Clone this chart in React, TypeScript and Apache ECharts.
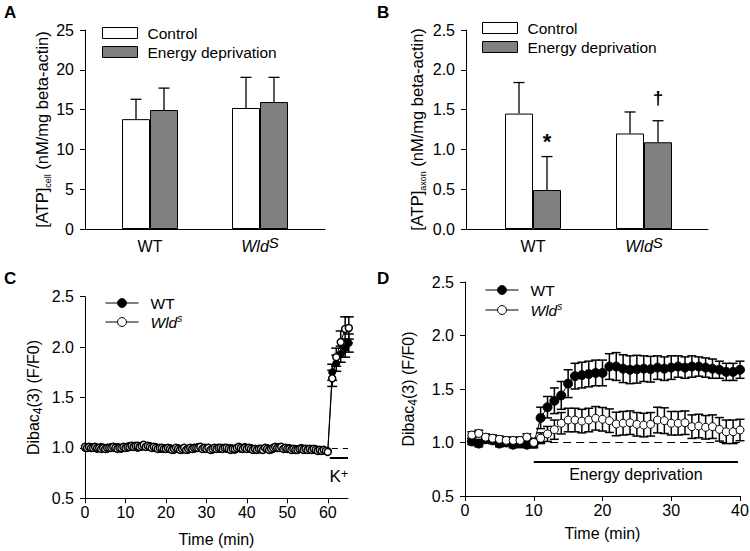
import React, { useEffect, useRef } from 'react';
import * as echarts from 'echarts';

// ---------- data ----------
const groups = ['WT', 'WldS'];
// Panel A: [ATP]cell
const aControl = [13.8, 15.2];
const aControlErr = [2.5, 3.85];
const aEnergy = [14.95, 15.95];
const aEnergyErr = [2.75, 3.1];
// Panel B: [ATP]axon
const bControl = [1.45, 1.2];
const bControlErr = [0.39, 0.27];
const bEnergy = [0.49, 1.09];
const bEnergyErr = [0.42, 0.27];
const bSignif = ['*', '\u2020'];

// Panel C: baseline sampled every 0.5 min from 0 to 60, then K+ stimulation
const cBaseTime = Array.from({ length: 121 }, (_, i) => i * 0.5);
const cWTBase = [
  1.00, 1.01, 1.00, 1.00, 1.01, 1.00, 0.99, 1.00, 1.01, 1.00,
  1.00, 0.99, 1.00, 1.01, 1.00, 1.00, 1.01, 1.00, 0.99, 1.00,
  1.01, 1.00, 1.02, 1.01, 1.02, 1.01, 1.00, 1.02, 1.01, 1.02,
  1.02, 1.01, 1.02, 1.01, 1.00, 1.01, 1.00, 0.99, 0.99, 1.00,
  1.00, 0.99, 1.00, 0.99, 0.98, 0.99, 1.00, 0.99, 0.98, 0.99,
  0.99, 0.98, 0.99, 1.00, 0.99, 1.00, 1.01, 1.00, 1.00, 0.99,
  1.00, 1.00, 0.99, 0.98, 0.99, 1.00, 0.99, 0.99, 1.00, 1.00,
  0.99, 0.99, 1.00, 0.99, 0.98, 0.99, 1.00, 0.99, 1.00, 1.01,
  1.00, 0.99, 1.00, 0.99, 0.98, 0.99, 0.99, 0.98, 0.99, 0.99,
  1.00, 0.99, 0.98, 0.99, 1.00, 1.00, 1.01, 1.00, 1.00, 0.99,
  1.00, 1.00, 0.99, 0.98, 0.99, 0.98, 0.99, 1.00, 0.99, 0.98,
  0.99, 0.98, 0.99, 0.98, 0.99, 0.98, 0.97, 0.98, 0.98, 0.97,
  0.97,
];
const cWldBase = [
  1.01, 1.00, 1.01, 1.00, 1.00, 1.01, 1.00, 1.00, 0.99, 1.00,
  0.99, 1.00, 1.00, 1.00, 1.01, 1.00, 0.99, 1.00, 1.00, 1.01,
  1.00, 1.01, 1.01, 1.02, 1.01, 1.02, 1.02, 1.01, 1.02, 1.03,
  1.01, 1.02, 1.01, 1.00, 1.01, 1.00, 0.99, 1.00, 1.00, 0.99,
  0.99, 1.00, 0.99, 0.98, 0.99, 1.00, 0.99, 0.98, 0.99, 1.00,
  0.98, 0.99, 1.00, 0.99, 1.00, 1.00, 1.00, 1.01, 0.99, 1.00,
  0.99, 1.00, 0.98, 0.99, 1.00, 0.99, 1.00, 1.00, 0.99, 1.00,
  1.00, 0.99, 0.98, 0.99, 0.99, 1.00, 1.01, 1.00, 0.99, 1.00,
  0.99, 1.00, 0.99, 0.98, 0.99, 0.98, 0.99, 0.99, 0.98, 1.00,
  0.99, 0.98, 0.99, 1.00, 1.01, 1.00, 1.00, 1.01, 0.99, 1.00,
  0.99, 0.99, 0.98, 0.99, 0.98, 0.98, 0.99, 0.99, 0.98, 0.99,
  0.98, 0.99, 0.98, 0.99, 0.98, 0.97, 0.98, 0.97, 0.98, 0.97,
  0.96,
];
const cKTime = [61.1, 62.1, 63.2, 64.3, 65.2];
const cWTK = [1.75, 1.84, 1.93, 1.99, 2.04];
const cWTKErr = [0.08, 0.08, 0.08, 0.09, 0.09];
const cWldK = [1.69, 1.9, 2.05, 2.18, 2.19];
const cWldKErr = [0.08, 0.09, 0.11, 0.12, 0.11];

// Panel D: every minute, 1..40
const dTime = Array.from({ length: 40 }, (_, i) => i + 1);
const dWT = [
  1.01, 0.99, 1.03, 1.02, 0.99, 1.0, 0.98, 0.99, 0.98, 0.99,
  1.23, 1.33, 1.39, 1.44, 1.55, 1.62, 1.63, 1.64, 1.65, 1.65,
  1.71, 1.71, 1.69, 1.68, 1.685, 1.69, 1.685, 1.7, 1.69, 1.7,
  1.71, 1.7, 1.71, 1.71, 1.7, 1.69, 1.68, 1.66, 1.66, 1.68,
];
const dWTErr = [
  0.03, 0.03, 0.03, 0.03, 0.03, 0.03, 0.03, 0.03, 0.03, 0.04,
  0.1, 0.1, 0.12, 0.13, 0.13, 0.12, 0.12, 0.12, 0.12, 0.12,
  0.12, 0.13, 0.13, 0.13, 0.13, 0.12, 0.12, 0.11, 0.11, 0.11,
  0.1, 0.1, 0.1, 0.09, 0.09, 0.09, 0.08, 0.08, 0.08, 0.08,
];
const dWld = [
  1.07, 1.085, 1.05, 1.04, 1.03, 1.02, 1.02, 1.02, 1.05, 1.0,
  1.04, 1.08, 1.12, 1.18, 1.21, 1.21, 1.2, 1.21, 1.226, 1.217,
  1.204, 1.173, 1.18, 1.185, 1.17, 1.163, 1.17, 1.21, 1.204, 1.18,
  1.18, 1.185, 1.148, 1.154, 1.142, 1.148, 1.123, 1.1, 1.1, 1.117,
];
const dWldErr = [
  0.03, 0.03, 0.03, 0.03, 0.03, 0.03, 0.03, 0.03, 0.03, 0.04,
  0.05, 0.07, 0.09, 0.1, 0.11, 0.11, 0.11, 0.11, 0.11, 0.11,
  0.11, 0.11, 0.11, 0.11, 0.11, 0.11, 0.11, 0.12, 0.12, 0.11,
  0.11, 0.11, 0.11, 0.11, 0.11, 0.11, 0.11, 0.11, 0.11, 0.1,
];

// annotation ranges (data units)
const kLevel = 0.9;
const kRange = [60.5, 65];
const cDashRange = [61, 65];
const edLevel = 0.82;
const edRange = [10, 39.7];
const dDashRange = [10.5, 40];

// ---------- styles ----------
const FONT = 'Arial, "Liberation Sans", Helvetica, sans-serif';
const BAR_W = 28;
const BLACK = '#000';
const GRAY = '#808080';

const tickFmt1 = (v: number) => v.toFixed(1);

function valueY(gridIndex: number, min: number, max: number, interval: number, name: string, nameGap: number, fmt: any, fs: number, rich: any) {
  return {
    type: 'value', gridIndex, min, max, interval,
    axisLine: { show: true, onZero: false, lineStyle: { color: BLACK, width: 1 } },
    axisTick: { show: true, length: 5, lineStyle: { color: BLACK, width: 1 } },
    axisLabel: { color: BLACK, fontSize: fs, fontFamily: FONT, margin: 11, formatter: fmt },
    splitLine: { show: false },
    name, nameLocation: 'middle', nameGap, nameRotate: 90, nameMoveOverlap: false,
    nameTextStyle: { color: BLACK, fontFamily: FONT, fontSize: 16, rich },
  };
}

function hiddenY(gridIndex: number, min: number, max: number) {
  return { type: 'value', gridIndex, min, max, show: false, splitLine: { show: false } };
}

function lineX(gridIndex: number) {
  return {
    type: 'value', gridIndex, min: 0, max: 1,
    axisLine: { show: true, onZero: false, lineStyle: { color: BLACK, width: 1 } },
    axisTick: { show: false }, axisLabel: { show: false }, splitLine: { show: false },
  };
}

const catRich = {
  n: { fontSize: 16, lineHeight: 22, color: BLACK, fontFamily: FONT },
  i: { fontSize: 16, lineHeight: 22, fontStyle: 'italic', color: BLACK, fontFamily: FONT },
  sup: { fontSize: 15, lineHeight: 15, fontStyle: 'italic', verticalAlign: 'top', color: BLACK, fontFamily: FONT },
};

function catX(gridIndex: number) {
  return {
    type: 'category', gridIndex, data: groups,
    axisLine: { show: false }, axisTick: { show: false }, splitLine: { show: false },
    axisLabel: {
      interval: 0, hideOverlap: false,
      margin: 6, color: BLACK, fontFamily: FONT, fontSize: 16, rich: catRich,
      formatter: (v: string) => (v === 'WldS' ? '{i|Wld}{sup|S}' : '{n|' + v + '}'),
    },
  };
}

function timeX(gridIndex: number, max: number, nameGap: number, custom?: number[]) {
  const ax: any = {
    type: 'value', gridIndex, min: 0, max, interval: 10,
    axisLine: { show: true, onZero: false, lineStyle: { color: BLACK, width: 1 } },
    axisTick: { show: true, length: 5, lineStyle: { color: BLACK } },
    axisLabel: { color: BLACK, fontFamily: FONT, fontSize: 16, margin: 6 },
    splitLine: { show: false },
    name: 'Time (min)', nameLocation: 'middle', nameGap, nameMoveOverlap: false,
    nameTextStyle: { color: BLACK, fontFamily: FONT, fontSize: 16 },
  };
  if (custom) {
    ax.axisTick.customValues = custom;
    ax.axisLabel.customValues = custom;
  }
  return ax;
}

const subRich = {
  m: { fontSize: 16.5, lineHeight: 20, color: BLACK, fontFamily: FONT },
  s: { fontSize: 9, lineHeight: 9, verticalAlign: 'bottom', color: BLACK, fontFamily: FONT },
};
const dibacRich = {
  m: { fontSize: 16, lineHeight: 22, color: BLACK, fontFamily: FONT },
  s: { fontSize: 12, lineHeight: 12, verticalAlign: 'bottom', color: BLACK, fontFamily: FONT },
};

function barErrSeries(name: string, xi: number, vals: number[], errs: number[], offset: number, sig?: string[]) {
  return {
    type: 'custom', name, xAxisIndex: xi, yAxisIndex: xi, silent: true, z: 5,
    data: groups.map((g, i) => [i, vals[i], vals[i] + errs[i]]),
    encode: { x: 0, y: [1, 2] },
    renderItem: (params: any, api: any) => {
      const idx = params.dataIndex;
      const c0 = api.coord([api.value(0), api.value(1)]);
      const c1 = api.coord([api.value(0), api.value(2)]);
      const x = c0[0] + offset;
      const st = { stroke: BLACK, lineWidth: 1.3 };
      const children: any[] = [
        { type: 'line', shape: { x1: x, y1: c0[1], x2: x, y2: c1[1] }, style: st },
        { type: 'line', shape: { x1: x - 5.5, y1: c1[1], x2: x + 5.5, y2: c1[1] }, style: st },
      ];
      if (sig && sig[idx]) {
        children.push({
          type: 'text', x, y: c1[1] - (sig[idx] === '*' ? 15 : 23),
          style: { text: sig[idx], fill: BLACK, fontFamily: FONT, fontWeight: 'bold', fontSize: sig[idx] === '*' ? 22 : 19, align: 'center', verticalAlign: 'middle' },
        });
      }
      return { type: 'group', children };
    },
  };
}

function errSeries(name: string, gi: number, xs: number[], vals: number[], errs: number[], hw: number, lw: number) {
  return {
    type: 'custom', name, xAxisIndex: gi, yAxisIndex: gi, silent: true, z: 1, clip: false,
    data: xs.map((x, i) => [x, vals[i] - errs[i], vals[i] + errs[i]]),
    encode: { x: 0, y: [1, 2] },
    renderItem: (params: any, api: any) => {
      const lo = api.coord([api.value(0), api.value(1)]);
      const hi = api.coord([api.value(0), api.value(2)]);
      const st = { stroke: BLACK, lineWidth: lw };
      return {
        type: 'group',
        children: [
          { type: 'line', shape: { x1: lo[0], y1: lo[1], x2: hi[0], y2: hi[1] }, style: st },
          { type: 'line', shape: { x1: lo[0] - hw, y1: lo[1], x2: lo[0] + hw, y2: lo[1] }, style: st },
          { type: 'line', shape: { x1: hi[0] - hw, y1: hi[1], x2: hi[0] + hw, y2: hi[1] }, style: st },
        ],
      };
    },
  };
}

function barSeries(name: string, xi: number, vals: number[], color: string) {
  return {
    type: 'bar', name, xAxisIndex: xi, yAxisIndex: xi, data: vals, barWidth: BAR_W, barGap: '0%',
    itemStyle: { color, borderColor: BLACK, borderWidth: 1 }, silent: true, z: 3,
  };
}

function pts(xs: number[], ys: number[]) {
  return xs.map((x, i) => [x, ys[i]]);
}

const cTime = [...cBaseTime, ...cKTime];
const cWT = [...cWTBase, ...cWTK];
const cWld = [...cWldBase, ...cWldK];

const legendRichSmall = {
  n: { fontSize: 15.5, color: BLACK, fontFamily: FONT, lineHeight: 18 },
  i: { fontSize: 15.5, fontStyle: 'italic', color: BLACK, fontFamily: FONT, lineHeight: 18 },
  sup: { fontSize: 10, fontStyle: 'italic', color: BLACK, fontFamily: FONT, lineHeight: 12, verticalAlign: 'top' },
};
const genoFmt = (n: string) => (n === 'WldS' ? '{i|Wld}{sup|s}' : '{n|' + n + '}');

function barLegend(left: number, top: number) {
  return {
    orient: 'vertical', left, top, padding: 0, itemWidth: 35, itemHeight: 11, itemGap: 1,
    selectedMode: false, icon: 'rect',
    textStyle: { fontSize: 15.5, color: BLACK, fontFamily: FONT, lineHeight: 18, padding: [0, 0, 0, 5] },
    data: [
      { name: 'Control', itemStyle: { color: '#fff', borderColor: BLACK, borderWidth: 1 } },
      { name: 'Energy deprivation', itemStyle: { color: GRAY, borderColor: BLACK, borderWidth: 1 } },
    ],
  };
}
function lineLegend(left: number, top: number, gap: number) {
  return {
    orient: 'vertical', left, top, padding: 0, itemWidth: 33, itemHeight: 11, itemGap: gap,
    selectedMode: false, formatter: genoFmt,
    textStyle: { fontSize: 15.5, color: BLACK, fontFamily: FONT, padding: [0, 0, 0, 7], rich: legendRichSmall },
    data: [
      { name: 'WT', itemStyle: { color: BLACK, borderColor: BLACK, borderWidth: 1 }, lineStyle: { color: BLACK, width: 1 } },
      { name: 'WldS', itemStyle: { color: '#fff', borderColor: BLACK, borderWidth: 1 }, lineStyle: { color: BLACK, width: 1 } },
    ],
  };
}

function panelLetter(t: string, x: number, y: number) {
  return { type: 'text', x, y, style: { text: t, fill: BLACK, fontFamily: FONT, fontWeight: 'bold', fontSize: 17, verticalAlign: 'top' } };
}

function buildOption() {
  return {
    animation: false,
    backgroundColor: '#fff',
    textStyle: { fontFamily: FONT },
    grid: [
      { left: 85, top: 30, width: 240, height: 199, outerBoundsMode: 'none' },
      { left: 95, top: 30, width: 220, height: 199, outerBoundsMode: 'none' },
      { left: 466, top: 30, width: 242, height: 199, outerBoundsMode: 'none' },
      { left: 477.5, top: 30, width: 222, height: 199, outerBoundsMode: 'none' },
      { left: 85, top: 296.7, width: 263, height: 201.6, outerBoundsMode: 'none' },
      { left: 465, top: 282, width: 275, height: 214, outerBoundsMode: 'none' },
    ],
    xAxis: [
      lineX(0),
      catX(1),
      lineX(2),
      catX(3),
      timeX(4, 65, 33, [0, 10, 20, 30, 40, 50, 60]),
      timeX(5, 40, 29),
    ],
    yAxis: [
      valueY(0, 0, 25, 5, '{m|[ATP]}{s|cell}{m| (nM/mg beta-actin)}', 33, undefined, 16, subRich),
      hiddenY(1, 0, 25),
      valueY(2, 0, 2.5, 0.5, '{m|[ATP]}{s|axon}{m| (nM/mg beta-actin)}', 39, tickFmt1, 16, subRich),
      hiddenY(3, 0, 2.5),
      valueY(4, 0.5, 2.5, 0.5, '{m|Dibac}{s|4}{m|(3) (F/F0)}', 41, tickFmt1, 16, dibacRich),
      valueY(5, 0.5, 2.5, 0.5, '{m|Dibac}{s|4}{m|(3) (F/F0)}', 46, tickFmt1, 16, dibacRich),
    ],
    legend: [barLegend(102, 24), barLegend(482, 19), lineLegend(105, 295, 2), lineLegend(485, 282, 3)],
    graphic: [panelLetter('A', 4, 4), panelLetter('B', 377, 4), panelLetter('C', 4, 270), panelLetter('D', 377, 270)],
    series: [
      // Panel A
      barSeries('Control', 1, aControl, '#fff'),
      barSeries('Energy deprivation', 1, aEnergy, GRAY),
      barErrSeries('A control err', 1, aControl, aControlErr, -BAR_W / 2),
      barErrSeries('A energy err', 1, aEnergy, aEnergyErr, BAR_W / 2),
      // Panel B
      barSeries('Control', 3, bControl, '#fff'),
      barSeries('Energy deprivation', 3, bEnergy, GRAY),
      barErrSeries('B control err', 3, bControl, bControlErr, -BAR_W / 2),
      barErrSeries('B energy err', 3, bEnergy, bEnergyErr, BAR_W / 2, bSignif),
      // Panel C
      errSeries('C WT err', 4, cKTime, cWTK, cWTKErr, 5, 1.5),
      errSeries('C Wld err', 4, cKTime, cWldK, cWldKErr, 5, 1.5),
      {
        type: 'line', name: 'WT', xAxisIndex: 4, yAxisIndex: 4, data: pts(cTime, cWT), clip: false,
        symbol: 'circle', symbolSize: 7, showSymbol: true, silent: true, z: 3,
        itemStyle: { color: BLACK, borderColor: BLACK, borderWidth: 1 }, lineStyle: { color: BLACK, width: 1 },
      },
      {
        type: 'line', name: 'WldS', xAxisIndex: 4, yAxisIndex: 4, data: pts(cTime, cWld), clip: false,
        symbol: 'circle', symbolSize: 7, showSymbol: true, silent: true, z: 4,
        itemStyle: { color: '#fff', borderColor: BLACK, borderWidth: 1.5 }, lineStyle: { color: BLACK, width: 1 },
        markLine: {
          silent: true, symbol: ['none', 'none'], animation: false,
          data: [
            [
              { coord: [cDashRange[0], 1], lineStyle: { type: [6, 5], color: BLACK, width: 1 }, label: { show: false } },
              { coord: [cDashRange[1], 1] },
            ],
            [
              {
                coord: [kRange[0], kLevel], lineStyle: { type: 'solid', color: BLACK, width: 2 },
                label: {
                  show: true, position: 'insideMiddleBottom', distance: 9, formatter: '{k|K}{p|+}',
                  rich: {
                    k: { fontSize: 17, lineHeight: 20, color: BLACK, fontFamily: FONT },
                    p: { fontSize: 13, lineHeight: 12, verticalAlign: 'top', color: BLACK, fontFamily: FONT },
                  },
                },
              },
              { coord: [kRange[1], kLevel] },
            ],
          ],
        },
      },
      // Panel D
      errSeries('D WT err', 5, dTime, dWT, dWTErr, 4.5, 1.5),
      errSeries('D Wld err', 5, dTime, dWld, dWldErr, 4.5, 1.5),
      {
        type: 'line', name: 'WT', xAxisIndex: 5, yAxisIndex: 5, data: pts(dTime, dWT),
        symbol: 'circle', symbolSize: 9, showSymbol: true, silent: true, z: 3,
        itemStyle: { color: BLACK, borderColor: BLACK, borderWidth: 1 }, lineStyle: { color: BLACK, width: 1 },
      },
      {
        type: 'line', name: 'WldS', xAxisIndex: 5, yAxisIndex: 5, data: pts(dTime, dWld),
        symbol: 'circle', symbolSize: 8, showSymbol: true, silent: true, z: 4,
        itemStyle: { color: '#fff', borderColor: BLACK, borderWidth: 1 }, lineStyle: { color: BLACK, width: 1 },
        markLine: {
          silent: true, symbol: ['none', 'none'], animation: false,
          data: [
            [
              { coord: [dDashRange[0], 1], lineStyle: { type: [8, 5], color: BLACK, width: 1 }, label: { show: false } },
              { coord: [dDashRange[1], 1] },
            ],
            [
              {
                coord: [edRange[0], edLevel], lineStyle: { type: 'solid', color: BLACK, width: 2 },
                label: { show: true, position: 'insideMiddleBottom', distance: 5, formatter: 'Energy deprivation', color: BLACK, fontSize: 16, fontFamily: FONT },
              },
              { coord: [edRange[1], edLevel] },
            ],
          ],
        },
      },
    ],
  };
}

export default function App() {
  const ref = useRef<HTMLDivElement>(null);
  useEffect(() => {
    const chart = echarts.init(ref.current as HTMLDivElement, null, { renderer: 'svg' });
    chart.setOption(buildOption() as any);
    return () => chart.dispose();
  }, []);
  return (
    <div
      ref={ref}
      style={{ position: 'absolute', left: 0, top: 0, width: 750, height: 551, background: '#fff' }}
    />
  );
}
